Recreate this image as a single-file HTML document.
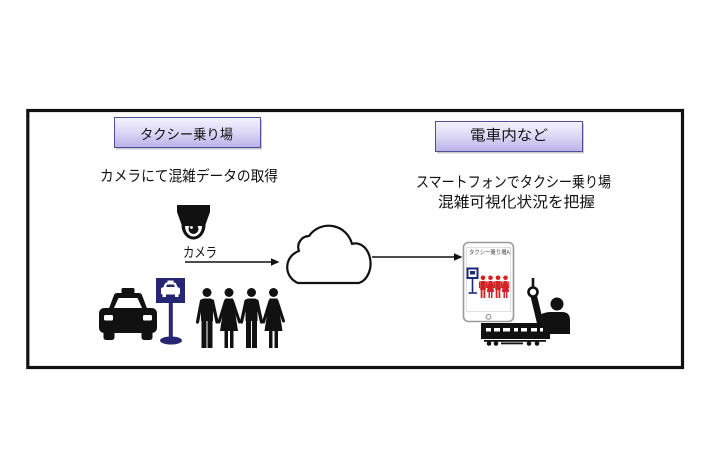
<!DOCTYPE html>
<html><head><meta charset="utf-8">
<style>
html,body{margin:0;padding:0;background:#fff;}
body{width:710px;height:474px;overflow:hidden;}
svg{display:block;}
text{font-family:"Liberation Sans","Noto Sans CJK JP",sans-serif;fill:#111;}
</style></head>
<body>
<svg width="710" height="474" viewBox="0 0 710 474" xmlns="http://www.w3.org/2000/svg">
<defs>
<linearGradient id="lg" x1="0" y1="0" x2="0" y2="1">
<stop offset="0" stop-color="#f5f3fd"/>
<stop offset="0.5" stop-color="#dcd7f6"/>
<stop offset="1" stop-color="#b9b1e8"/>
</linearGradient>
</defs>
<rect x="0" y="0" width="710" height="474" fill="#fff"/>
<!-- frame -->
<rect x="27.8" y="110.5" width="654.7" height="257" fill="none" stroke="#111" stroke-width="3.2"/>

<!-- label boxes -->
<rect x="116" y="119.5" width="146" height="30" fill="#8a8a9a" opacity="0.45"/>
<rect x="114.5" y="117.5" width="146" height="30" fill="url(#lg)" stroke="#50509a" stroke-width="1"/>
<text x="140" y="139.5" font-size="14" textLength="93" lengthAdjust="spacingAndGlyphs">タクシー乗り場</text>

<rect x="437" y="123.5" width="147" height="30" fill="#8a8a9a" opacity="0.45"/>
<rect x="435.5" y="121.5" width="147" height="30" fill="url(#lg)" stroke="#50509a" stroke-width="1"/>
<text x="470" y="140.5" font-size="14.5" textLength="78" lengthAdjust="spacingAndGlyphs">電車内など</text>

<!-- texts -->
<text x="100" y="181" font-size="15" textLength="178" lengthAdjust="spacingAndGlyphs">カメラにて混雑データの取得</text>
<text x="416" y="187" font-size="15" textLength="195" lengthAdjust="spacingAndGlyphs">スマートフォンでタクシー乗り場</text>
<text x="438" y="207" font-size="15" textLength="157" lengthAdjust="spacingAndGlyphs">混雑可視化状況を把握</text>
<text x="183" y="257.5" font-size="14" textLength="34" lengthAdjust="spacingAndGlyphs">カメラ</text>

<!-- camera -->
<path d="M177 205 H210 V212 L205 226 H182 L177 212 Z" fill="#111"/>
<path d="M181.5 225 A12 14.5 0 0 0 205.5 225 Z" fill="#111"/>
<path d="M185 226 A8.5 10.5 0 0 0 202 226 Z" fill="#fff"/>
<circle cx="193.5" cy="229" r="5" fill="#111"/>
<circle cx="191.5" cy="227.5" r="1.4" fill="#fff"/>

<!-- arrows -->
<line x1="185" y1="262" x2="273" y2="262" stroke="#111" stroke-width="1.4"/>
<polygon points="271,258.3 279.5,262 271,265.7" fill="#111"/>
<line x1="372" y1="257" x2="456" y2="257" stroke="#111" stroke-width="1.4"/>
<polygon points="454,253.3 462.5,257 454,260.7" fill="#111"/>

<!-- cloud -->
<path d="M298 283 A17 17 0 0 1 299 251 A11 11 0 0 1 309 236 A24 24 0 0 1 352 244 A15 20 0 0 1 359 283 Z" fill="#fff" stroke="#111" stroke-width="2.2" stroke-linejoin="round"/>

<!-- taxi -->
<rect x="121.5" y="288" width="13" height="6" rx="1.5" fill="#111"/>
<path d="M108 311 L114 295 Q115 293 117 293 H139 Q141 293 142 295 L148 311 Z" fill="#111"/>
<path d="M113.5 309 L118.5 298 H137.5 L142.5 309 Z" fill="#fff"/>
<rect x="99" y="308" width="58" height="25" rx="5" fill="#111"/>
<rect x="104" y="315" width="9" height="5.5" rx="1.5" fill="#fff"/>
<rect x="143" y="315" width="9" height="5.5" rx="1.5" fill="#fff"/>
<rect x="103.5" y="328" width="11" height="12" rx="2.5" fill="#111"/>
<rect x="141.5" y="328" width="11" height="12" rx="2.5" fill="#111"/>

<!-- taxi sign -->
<rect x="156" y="278" width="29" height="25" fill="#262673"/>
<path d="M163 288 L165 283.5 Q165.5 282.5 167 282.5 H174 Q175.5 282.5 176 283.5 L178 288 Z" fill="#fff"/>
<rect x="167.5" y="280.5" width="6" height="2" fill="#fff"/>
<rect x="161" y="287.5" width="19" height="7" rx="1.5" fill="#fff"/>
<rect x="162.5" y="294" width="3.5" height="3" fill="#fff"/>
<rect x="175" y="294" width="3.5" height="3" fill="#fff"/>
<path d="M166 287 L167.2 284.5 H173.8 L175 287 Z" fill="#262673"/>
<rect x="168.8" y="303" width="4" height="37" fill="#262673"/>
<ellipse cx="171" cy="340.5" rx="11" ry="4" fill="#262673"/>

<!-- people -->
<g fill="#111" stroke="#111">
  <circle cx="207" cy="292.5" r="4.5" stroke="none"/>
  <path d="M201 302 Q201 298.5 204 298.5 H210 Q213 298.5 213 302 V321 H201 Z" stroke="none"/>
  <line x1="201.5" y1="301" x2="197.5" y2="322" stroke-width="3.2" stroke-linecap="round"/>
  <line x1="212.5" y1="301" x2="217" y2="322" stroke-width="3.2" stroke-linecap="round"/>
  <rect x="201.5" y="320" width="5" height="28" stroke="none"/>
  <rect x="207.5" y="320" width="5" height="28" stroke="none"/>
  <circle cx="229" cy="292.5" r="4.5" stroke="none"/>
  <path d="M225 298.5 H233 L238 331 H220 Z" stroke="none"/>
  <line x1="225.5" y1="301" x2="219" y2="322" stroke-width="3" stroke-linecap="round"/>
  <line x1="232.5" y1="301" x2="239.5" y2="322" stroke-width="3" stroke-linecap="round"/>
  <rect x="224.5" y="330" width="3.5" height="18" stroke="none"/>
  <rect x="230" y="330" width="3.5" height="18" stroke="none"/>
  <circle cx="251.5" cy="292.5" r="4.5" stroke="none"/>
  <path d="M245.5 302 Q245.5 298.5 248.5 298.5 H254.5 Q257.5 298.5 257.5 302 V321 H245.5 Z" stroke="none"/>
  <line x1="246" y1="301" x2="241.5" y2="322" stroke-width="3.2" stroke-linecap="round"/>
  <line x1="257" y1="301" x2="261.5" y2="322" stroke-width="3.2" stroke-linecap="round"/>
  <rect x="246" y="320" width="5" height="28" stroke="none"/>
  <rect x="252" y="320" width="5" height="28" stroke="none"/>
  <circle cx="273.5" cy="292.5" r="4.5" stroke="none"/>
  <path d="M269.5 298.5 H277.5 L282.5 331 H264.5 Z" stroke="none"/>
  <line x1="270" y1="301" x2="263.5" y2="322" stroke-width="3" stroke-linecap="round"/>
  <line x1="277" y1="301" x2="283.5" y2="321" stroke-width="3" stroke-linecap="round"/>
  <rect x="269" y="330" width="3.5" height="18" stroke="none"/>
  <rect x="274.5" y="330" width="3.5" height="18" stroke="none"/>
</g>

<!-- phone -->
<rect x="463.5" y="242.5" width="50" height="79" rx="5" fill="#fff" stroke="#9a9a9a" stroke-width="1.6"/>
<rect x="466.5" y="247.5" width="44" height="64" fill="#fff" stroke="#d8d8d8" stroke-width="0.8"/>
<circle cx="488.5" cy="316.8" r="2.4" fill="#fff" stroke="#8a8a8a" stroke-width="1"/>
<text x="469" y="254.5" font-size="6" textLength="41" lengthAdjust="spacingAndGlyphs" style="fill:#444">タクシー乗り場A</text>
<rect x="467.5" y="268.5" width="10" height="9.5" fill="#fff" stroke="#1c2a7a" stroke-width="2"/>
<rect x="470" y="271" width="5" height="3.5" fill="#1c2a7a"/>
<line x1="472.5" y1="278" x2="472.5" y2="293" stroke="#1c2a7a" stroke-width="1.6"/>
<line x1="468.5" y1="293" x2="477" y2="293" stroke="#1c2a7a" stroke-width="1.6"/>
<g fill="#d42222">
  <g transform="translate(483,0)"><circle cx="0" cy="277.8" r="2.3"/><path d="M-2.6 281 H2.6 L2.8 290 H-2.8 Z"/><rect x="-2.3" y="289" width="1.8" height="9"/><rect x="0.5" y="289" width="1.8" height="9"/><rect x="-4" y="281.5" width="1.2" height="6.5"/><rect x="2.8" y="281.5" width="1.2" height="6.5"/></g>
  <g transform="translate(490.5,0)"><circle cx="0" cy="277.8" r="2.3"/><path d="M-2 281 H2 L3.6 292 H-3.6 Z"/><rect x="-2" y="291" width="1.5" height="7"/><rect x="0.5" y="291" width="1.5" height="7"/><rect x="-3.8" y="281.5" width="1.1" height="6.5"/><rect x="2.7" y="281.5" width="1.1" height="6.5"/></g>
  <g transform="translate(498,0)"><circle cx="0" cy="277.8" r="2.3"/><path d="M-2.6 281 H2.6 L2.8 290 H-2.8 Z"/><rect x="-2.3" y="289" width="1.8" height="9"/><rect x="0.5" y="289" width="1.8" height="9"/><rect x="-4" y="281.5" width="1.2" height="6.5"/><rect x="2.8" y="281.5" width="1.2" height="6.5"/></g>
  <g transform="translate(505.5,0)"><circle cx="0" cy="277.8" r="2.3"/><path d="M-2 281 H2 L3.6 292 H-3.6 Z"/><rect x="-2" y="291" width="1.5" height="7"/><rect x="0.5" y="291" width="1.5" height="7"/><rect x="-3.8" y="281.5" width="1.1" height="6.5"/><rect x="2.7" y="281.5" width="1.1" height="6.5"/></g>
</g>

<!-- person on train -->
<line x1="533" y1="278" x2="533" y2="288" stroke="#111" stroke-width="2.6"/>
<line x1="534" y1="297" x2="540" y2="322" stroke="#111" stroke-width="6.5" stroke-linecap="round"/>
<circle cx="533" cy="292" r="4.5" fill="#fff" stroke="#111" stroke-width="2.6"/>
<circle cx="557" cy="304" r="6.5" fill="#111"/>
<path d="M537 334 V321 Q539 312 551 312 H562 Q570 312 570 320 V334 Z" fill="#111"/>

<!-- train -->
<path d="M481 323 H544 L550 332 V339 H481 Z" fill="#111"/>
<g fill="#fff">
  <rect x="486" y="328" width="5" height="3.5"/>
  <rect x="494" y="328" width="6" height="3.5"/>
  <rect x="503" y="328" width="7" height="3.5"/>
  <rect x="514" y="328" width="4" height="3.5"/>
  <rect x="521" y="328" width="6" height="3.5"/>
  <rect x="531" y="328" width="6" height="3.5"/>
  <rect x="540" y="328" width="3" height="3.5"/>
</g>
<rect x="484" y="340" width="62" height="1.8" fill="#111"/>
<g fill="#111">
  <circle cx="489" cy="343.5" r="2.3"/>
  <circle cx="496" cy="343.5" r="2.3"/>
  <rect x="501" y="342.5" width="22" height="1.8"/>
  <circle cx="529" cy="343.5" r="2.3"/>
  <circle cx="537" cy="343.5" r="2.3"/>
</g>
</svg>
</body></html>
